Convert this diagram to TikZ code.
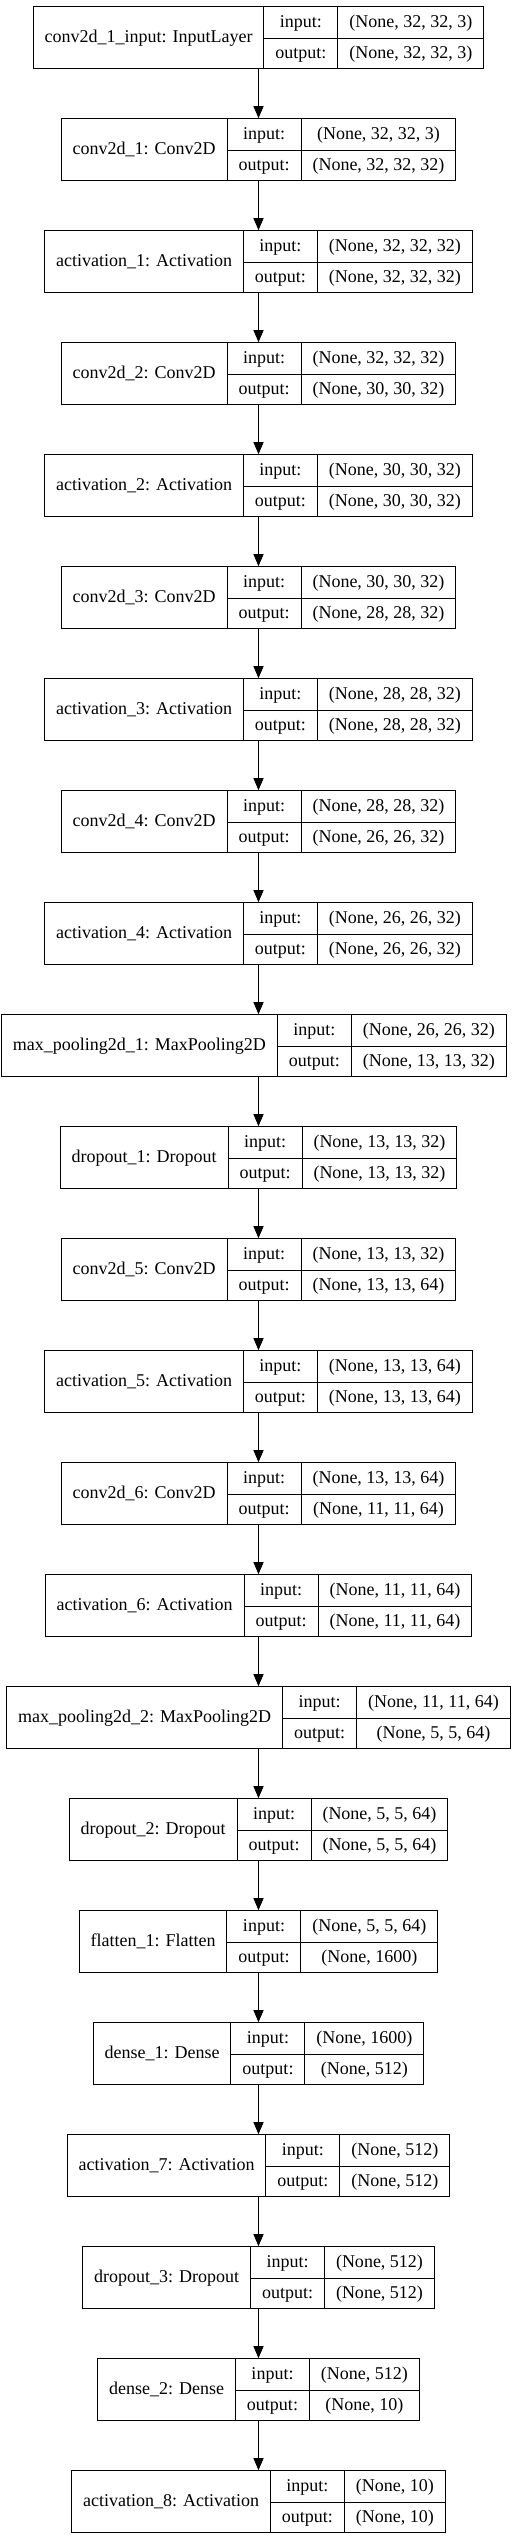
\documentclass[tikz,border=0pt]{standalone}
\usepackage{fontspec}
\setmainfont{Liberation Serif}
\usepackage{tikz}
\usetikzlibrary{arrows.meta, positioning}
\setlength{\tabcolsep}{11.5pt}
\setlength{\arrayrulewidth}{1pt}
\newcommand{\recstrut}{\rule[-10pt]{0pt}{30.85pt}}
\newcommand{\layerrec}[3]{%
  \begin{tabular}{c|c|c}
    \raisebox{-14.9pt}[0pt][0pt]{#1} & input: & #2\recstrut\\ \cline{2-3}
    & output: & #3\recstrut
  \end{tabular}}
\tikzset{
  layerbox/.style={rectangle, draw=black, line width=1pt, inner sep=0pt,
                   fill=white, font=\fontsize{18pt}{21.6pt}\selectfont},
  flow/.style={-{Triangle[length=12pt,width=10pt]}, line width=1pt, color=black}
}

\begin{document}
\begin{tikzpicture}[node distance=49.3pt]

  \useasboundingbox (0,0) rectangle (517pt,-2539pt);

  % ── Input & first conv block ──
  \node[layerbox] (input) at (258.5pt,-37.55pt)
      {\layerrec{conv2d\_1\_input: InputLayer}{(None, 32, 32, 3)}{(None, 32, 32, 3)}};
  \node[layerbox, below=of input] (conv1)
      {\layerrec{conv2d\_1: Conv2D}{(None, 32, 32, 3)}{(None, 32, 32, 32)}};
  \node[layerbox, below=of conv1] (act1)
      {\layerrec{activation\_1: Activation}{(None, 32, 32, 32)}{(None, 32, 32, 32)}};
  \node[layerbox, below=of act1] (conv2)
      {\layerrec{conv2d\_2: Conv2D}{(None, 32, 32, 32)}{(None, 30, 30, 32)}};
  \node[layerbox, below=of conv2] (act2)
      {\layerrec{activation\_2: Activation}{(None, 30, 30, 32)}{(None, 30, 30, 32)}};
  \node[layerbox, below=of act2] (conv3)
      {\layerrec{conv2d\_3: Conv2D}{(None, 30, 30, 32)}{(None, 28, 28, 32)}};
  \node[layerbox, below=of conv3] (act3)
      {\layerrec{activation\_3: Activation}{(None, 28, 28, 32)}{(None, 28, 28, 32)}};
  \node[layerbox, below=of act3] (conv4)
      {\layerrec{conv2d\_4: Conv2D}{(None, 28, 28, 32)}{(None, 26, 26, 32)}};
  \node[layerbox, below=of conv4] (act4)
      {\layerrec{activation\_4: Activation}{(None, 26, 26, 32)}{(None, 26, 26, 32)}};
  \node[layerbox, below=of act4, xshift=-4.7pt] (pool1)
      {\layerrec{max\_pooling2d\_1: MaxPooling2D}{(None, 26, 26, 32)}{(None, 13, 13, 32)}};
  \node[layerbox, below=of pool1, xshift=4.7pt] (drop1)
      {\layerrec{dropout\_1: Dropout}{(None, 13, 13, 32)}{(None, 13, 13, 32)}};

  % ── Second conv block ──
  \node[layerbox, below=of drop1] (conv5)
      {\layerrec{conv2d\_5: Conv2D}{(None, 13, 13, 32)}{(None, 13, 13, 64)}};
  \node[layerbox, below=of conv5] (act5)
      {\layerrec{activation\_5: Activation}{(None, 13, 13, 64)}{(None, 13, 13, 64)}};
  \node[layerbox, below=of act5] (conv6)
      {\layerrec{conv2d\_6: Conv2D}{(None, 13, 13, 64)}{(None, 11, 11, 64)}};
  \node[layerbox, below=of conv6] (act6)
      {\layerrec{activation\_6: Activation}{(None, 11, 11, 64)}{(None, 11, 11, 64)}};
  \node[layerbox, below=of act6] (pool2)
      {\layerrec{max\_pooling2d\_2: MaxPooling2D}{(None, 11, 11, 64)}{(None, 5, 5, 64)}};
  \node[layerbox, below=of pool2] (drop2)
      {\layerrec{dropout\_2: Dropout}{(None, 5, 5, 64)}{(None, 5, 5, 64)}};

  % ── Dense head ──
  \node[layerbox, below=of drop2] (flat1)
      {\layerrec{flatten\_1: Flatten}{(None, 5, 5, 64)}{(None, 1600)}};
  \node[layerbox, below=of flat1] (dense1)
      {\layerrec{dense\_1: Dense}{(None, 1600)}{(None, 512)}};
  \node[layerbox, below=of dense1] (act7)
      {\layerrec{activation\_7: Activation}{(None, 512)}{(None, 512)}};
  \node[layerbox, below=of act7] (drop3)
      {\layerrec{dropout\_3: Dropout}{(None, 512)}{(None, 512)}};
  \node[layerbox, below=of drop3] (dense2)
      {\layerrec{dense\_2: Dense}{(None, 512)}{(None, 10)}};
  \node[layerbox, below=of dense2] (act8)
      {\layerrec{activation\_8: Activation}{(None, 10)}{(None, 10)}};

  % ── ARROWS ──
  \draw[flow] (input) -- (conv1);
  \draw[flow] (conv1) -- (act1);
  \draw[flow] (act1) -- (conv2);
  \draw[flow] (conv2) -- (act2);
  \draw[flow] (act2) -- (conv3);
  \draw[flow] (conv3) -- (act3);
  \draw[flow] (act3) -- (conv4);
  \draw[flow] (conv4) -- (act4);
  \draw[flow] (act4) -- (act4 |- pool1.north);
  \draw[flow] (drop1 |- pool1.south) -- (drop1);
  \draw[flow] (drop1) -- (conv5);
  \draw[flow] (conv5) -- (act5);
  \draw[flow] (act5) -- (conv6);
  \draw[flow] (conv6) -- (act6);
  \draw[flow] (act6) -- (pool2);
  \draw[flow] (pool2) -- (drop2);
  \draw[flow] (drop2) -- (flat1);
  \draw[flow] (flat1) -- (dense1);
  \draw[flow] (dense1) -- (act7);
  \draw[flow] (act7) -- (drop3);
  \draw[flow] (drop3) -- (dense2);
  \draw[flow] (dense2) -- (act8);

\end{tikzpicture}
\end{document}
